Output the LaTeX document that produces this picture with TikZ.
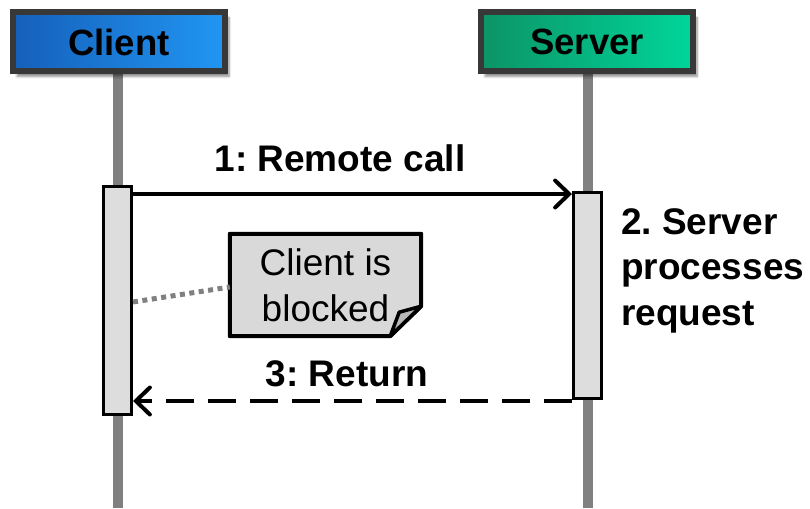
\documentclass[tikz,border=0pt]{standalone}
\usepackage{fontspec}
\setmainfont{Liberation Sans}
\usetikzlibrary{shadows.blur,arrows.meta,calc}
\frenchspacing
\definecolor{clientA}{HTML}{1560BA}
\definecolor{clientB}{HTML}{2196F3}
\definecolor{serverA}{HTML}{0C9466}
\definecolor{serverB}{HTML}{00D69A}
\definecolor{frame}{HTML}{383838}
\definecolor{life}{HTML}{808080}
\definecolor{actfill}{HTML}{DDDDDD}
\definecolor{notefill}{HTML}{D9D9D9}
\tikzset{
  titlebox/.style={draw=frame, line width=6pt, minimum width=212pt, minimum height=59pt,
    inner sep=0pt, font=\fontsize{36.5}{44}\selectfont\bfseries,
    blur shadow={shadow xshift=4pt, shadow yshift=-5pt, shadow blur steps=8, shadow opacity=45}},
  lifeline/.style={draw=life, line width=10pt},
  actbox/.style={draw=black, line width=3pt, fill=actfill, minimum width=28pt, inner sep=0pt},
  msglabel/.style={font=\fontsize{37}{45.5}\selectfont\bfseries, inner sep=0pt},
  callarrow/.style={line width=4pt, -{Straight Barb[length=14pt,width=27pt,line cap=round]}},
  retarrow/.style={line width=4pt, dash pattern=on 28pt off 14pt, -{Straight Barb[length=14pt,width=27pt,line cap=round]}},
  notebox/.style={inner sep=0pt, minimum width=191pt, minimum height=102pt},
  notetext/.style={font=\fontsize{37}{46}\selectfont, align=center, inner sep=0pt},
  noteedge/.style={draw=black, line width=4pt, fill=notefill, line join=round},
  dots/.style={draw=life, line width=5pt, dash pattern=on 5pt off 4.5pt}
}
\begin{document}
\begin{tikzpicture}[x=1pt,y=-1pt]
\useasboundingbox (0,0) rectangle (810,508);
% lifelines
\coordinate (cEnd) at (118,508);
\coordinate (sEnd) at (588,508);
\coordinate (cTop) at (118,60);
\coordinate (sTop) at (588,60);
\draw[lifeline] (cTop) -- (cEnd);
\draw[lifeline] (sTop) -- (sEnd);
% title boxes
\node[titlebox, left color=clientA, right color=clientB] (client) at (119,42) {Client};
\node[titlebox, left color=serverA, right color=serverB] (server) at (587,42) {Server};
% activations
\node[actbox, minimum height=228pt] (cact) at (117.5,300) {};
\node[actbox, minimum height=206pt] (sact) at (587.5,295.5) {};
% note
\node[notebox] (note) at (325.5,285) {};
\draw[noteedge] (note.north west) -- (note.north east) -- ([yshift=30pt]note.south east)
  -- ([xshift=-31pt]note.south east) -- (note.south west) -- cycle;
\node[notetext] (notetxt) at (note.center) {Client is\\blocked};
\draw[draw=black, line width=3.5pt, fill=gray!55, line join=round]
  ([yshift=30pt]note.south east) -- ([xshift=-22pt,yshift=24pt]note.south east) -- ([xshift=-31pt]note.south east) -- cycle;
\draw[dots] ([yshift=-2pt]cact.east) -- ([yshift=-2pt]note.west);
% messages
\coordinate (callEnd) at ([yshift=-3pt]sact.north west);
\draw[callarrow] (cact.east |- callEnd) -- (callEnd);
\node[msglabel, anchor=base] (l1) at (340,171) {1: Remote call};
\coordinate (retStart) at ([yshift=-1pt]sact.south west);
\draw[retarrow] (retStart) -- (cact.east |- retStart);
\node[msglabel, anchor=base] (l3) at (347,386) {3: Return};
\node[msglabel, anchor=north west, align=left] (l2) at (621,208) {2. Server\\processes\\request};
\end{tikzpicture}
\end{document}
